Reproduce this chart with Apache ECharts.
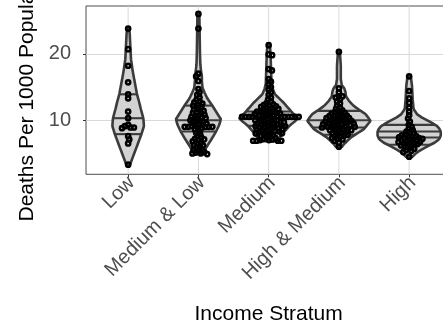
<!DOCTYPE html>
<html><head><meta charset="utf-8">
<script src="https://cdn.jsdelivr.net/npm/echarts@6/dist/echarts.min.js"></script>
<style>html,body{margin:0;padding:0;background:#fff}#c{width:443px;height:324px}</style>
</head><body><div id="c"></div>
<script>
// ---- data ----
const categories = ['Low', 'Medium & Low', 'Medium', 'High & Medium', 'High'];
const categoryPositions = [1, 2, 3, 4, 5];
const yTickLabels = [10, 20];

const lowValues = [3.3, 6.5, 7.1, 7.6, 8.8, 8.9, 8.9, 9.1, 9.3, 10.3, 11.3, 13.3, 13.9, 15.7, 18.2, 20.7, 23.8];
const mediumLowValues = [4.9, 5.0, 5.0, 5.1, 5.2, 5.4, 5.5, 5.6, 5.8, 6.0, 6.2, 6.3, 6.4, 6.6, 6.8, 7.0, 7.1, 7.2, 7.4, 7.6, 7.9, 8.1, 8.4, 8.6, 8.8, 8.9, 9.0, 9.0, 9.0, 9.0, 9.0, 9.1, 9.2, 9.3, 9.4, 9.5, 9.6, 9.7, 9.8, 9.9, 10.0, 10.1, 10.2, 10.3, 10.4, 10.5, 10.6, 10.7, 10.8, 11.0, 11.1, 11.2, 11.4, 11.5, 11.6, 11.8, 12.0, 12.2, 12.3, 12.5, 12.7, 12.8, 13.1, 13.4, 13.8, 14.2, 14.7, 15.9, 16.6, 17.0, 23.8, 26.0];
const mediumValues = [6.9, 6.9, 6.9, 6.9, 7.0, 7.0, 7.1, 7.2, 7.3, 7.4, 7.5, 7.6, 7.7, 7.8, 7.9, 8.0, 8.0, 8.1, 8.2, 8.3, 8.3, 8.4, 8.5, 8.5, 8.6, 8.7, 8.7, 8.8, 8.9, 8.9, 9.0, 9.0, 9.1, 9.1, 9.2, 9.2, 9.3, 9.4, 9.4, 9.5, 9.5, 9.6, 9.7, 9.7, 9.8, 9.9, 9.9, 10.0, 10.0, 10.1, 10.2, 10.2, 10.3, 10.4, 10.5, 10.5, 10.5, 10.5, 10.5, 10.5, 10.5, 10.5, 10.5, 10.5, 10.5, 10.6, 10.7, 10.7, 10.8, 10.9, 10.9, 11.0, 11.1, 11.1, 11.2, 11.3, 11.3, 11.4, 11.5, 11.6, 11.7, 11.8, 11.9, 12.0, 12.1, 12.2, 12.3, 12.4, 12.6, 12.8, 13.1, 13.4, 13.8, 14.2, 14.6, 15.0, 15.4, 15.8, 16.2, 17.5, 17.7, 19.8, 19.9, 21.3];
const highMediumValues = [6.0, 6.6, 6.9, 7.1, 7.2, 7.3, 7.5, 7.6, 7.7, 7.8, 7.9, 8.0, 8.1, 8.2, 8.3, 8.4, 8.5, 8.5, 8.6, 8.7, 8.7, 8.8, 8.9, 8.9, 9.0, 9.0, 9.1, 9.1, 9.2, 9.3, 9.3, 9.4, 9.4, 9.5, 9.5, 9.6, 9.6, 9.7, 9.7, 9.8, 9.8, 9.9, 10.0, 10.0, 10.1, 10.1, 10.2, 10.3, 10.3, 10.4, 10.5, 10.6, 10.6, 10.7, 10.8, 10.9, 11.0, 11.1, 11.2, 11.3, 11.5, 11.7, 11.9, 12.2, 12.5, 12.8, 13.1, 13.4, 13.6, 13.6, 14.2, 14.8, 20.3];
const highValues = [4.5, 5.2, 5.4, 5.5, 5.7, 5.8, 6.0, 6.1, 6.2, 6.3, 6.4, 6.5, 6.5, 6.6, 6.7, 6.8, 6.8, 6.9, 7.0, 7.0, 7.1, 7.2, 7.3, 7.3, 7.4, 7.5, 7.6, 7.6, 7.7, 7.8, 8.0, 8.1, 8.3, 8.5, 8.7, 9.0, 9.3, 9.8, 10.25, 10.75, 11.3, 11.9, 12.6, 13.3, 14.4, 16.6];

// relative violin density (value, relative half width; 1 = widest violin)
const lowDensity = [[3.3,0.06],[4.6,0.16],[6.1,0.28],[7.9,0.42],[9.1,0.50],[10.3,0.48],[11.7,0.40],[12.7,0.35],[13.9,0.28],[15.2,0.23],[16.2,0.19],[17.5,0.14],[19.2,0.09],[21.0,0.07],[23.0,0.05],[23.8,0.03]];
const mediumLowDensity = [[4.9,0.13],[5.9,0.25],[7.1,0.41],[8.4,0.57],[9.3,0.66],[10.15,0.71],[11.2,0.57],[12.2,0.44],[13.3,0.28],[14.2,0.19],[14.9,0.13],[15.8,0.11],[16.6,0.11],[17.5,0.08],[18.5,0.06],[20.0,0.05],[23.0,0.04],[26.0,0.03]];
const mediumDensity = [[6.85,0.26],[8.15,0.47],[9.15,0.66],[10.25,0.93],[11.4,0.70],[12.65,0.47],[13.9,0.20],[14.7,0.13],[15.5,0.09],[17.0,0.08],[18.5,0.07],[20.0,0.06],[21.3,0.04]];
const highMediumDensity = [[6.0,0.10],[6.4,0.16],[7.4,0.38],[8.65,0.79],[9.9,1.0],[10.9,0.85],[11.5,0.66],[12.15,0.47],[12.9,0.32],[13.65,0.22],[14.2,0.21],[14.8,0.17],[15.3,0.09],[16.2,0.06],[18.2,0.06],[20.3,0.03]];
const highDensity = [[4.47,0.10],[5.13,0.24],[5.6,0.40],[6.13,0.60],[6.6,0.80],[7.14,0.95],[7.7,1.0],[8.24,1.0],[8.7,0.96],[9.14,0.88],[9.5,0.75],[9.9,0.60],[10.4,0.40],[10.9,0.25],[11.66,0.14],[13.2,0.11],[15.2,0.09],[16.67,0.05]];

const lowQuantiles = [7.9, 10.3, 13.9];
const mediumLowQuantiles = [8.3, 10.0, 12.2];
const mediumQuantiles = [8.15, 9.15, 10.25, 11.3];
const highMediumQuantiles = [7.8, 8.9, 10.0, 11.4];
const highQuantiles = [6.3, 7.4, 8.3, 9.3];

// ---- assemble ----
const groups = [
  {values: lowValues, density: lowDensity, quantiles: lowQuantiles},
  {values: mediumLowValues, density: mediumLowDensity, quantiles: mediumLowQuantiles},
  {values: mediumValues, density: mediumDensity, quantiles: mediumQuantiles},
  {values: highMediumValues, density: highMediumDensity, quantiles: highMediumQuantiles},
  {values: highValues, density: highDensity, quantiles: highQuantiles}
];

const FONT = 'Liberation Sans, Arial, sans-serif';
const VIOLIN_FILL = '#d3d3d3', VIOLIN_STROKE = '#3b3b3b', GRID = '#d9d9d9';
const MAX_HALF = 0.45; // fraction of category step
const SWARM_D = 3.5, PT_R = 2.1;

function interpDensity(dens, v) {
  if (v <= dens[0][0]) return dens[0][1];
  for (let k = 1; k < dens.length; k++) {
    if (v <= dens[k][0]) {
      const a = dens[k-1], b = dens[k];
      const t = (v - a[0]) / (b[0] - a[0]);
      return a[1] + t * (b[1] - a[1]);
    }
  }
  return dens[dens.length-1][1];
}

function swarm(ys, D) {
  const order = ys.map((y, i) => i).sort((a, b) => ys[a] - ys[b]);
  const placed = [];
  const xs = new Array(ys.length);
  let flip = 1;
  for (const i of order) {
    const y = ys[i];
    const near = placed.filter(p => Math.abs(p.y - y) < D);
    const cands = [0];
    near.forEach(p => {
      const dx = Math.sqrt(D * D - (p.y - y) * (p.y - y));
      cands.push(p.x + dx, p.x - dx);
    });
    cands.sort((a, b) => Math.abs(a) - Math.abs(b) || (flip * (b - a)));
    let best = 0;
    for (const c of cands) {
      if (near.every(p => (p.x - c) * (p.x - c) + (p.y - y) * (p.y - y) >= D * D - 1e-6)) { best = c; break; }
    }
    flip = -flip;
    xs[i] = best;
    placed.push({x: best, y: y});
  }
  return xs;
}

function renderGroup(params, api) {
  const gi = api.value(0) - 1;
  const g = groups[gi];
  const pos = categoryPositions[gi];
  const step = api.size([1, 0])[0];
  const cs = params.coordSys;
  const children = [];
  const cx = api.coord([pos, 10])[0];
  children.push({type: 'line', shape: {x1: cx, y1: cs.y, x2: cx, y2: cs.y + cs.height},
    style: {stroke: GRID, lineWidth: 1}, silent: true});
  const right = [], left = [];
  const dens = g.density;
  const vmin = dens[0][0], vmax = dens[dens.length-1][0];
  const N = 80;
  for (let k = 0; k <= N; k++) {
    const v = vmin + (vmax - vmin) * k / N;
    const hw = interpDensity(dens, v) * MAX_HALF * step;
    const y = api.coord([pos, v])[1];
    right.push([cx + hw, y]);
    left.unshift([cx - hw, y]);
  }
  children.push({type: 'polygon', shape: {points: right.concat(left), smooth: 0},
    style: {fill: VIOLIN_FILL, stroke: VIOLIN_STROKE, lineWidth: 2.6, lineJoin: 'round'}});
  g.quantiles.forEach(q => {
    const hw = interpDensity(dens, q) * MAX_HALF * step;
    const y = api.coord([pos, q])[1];
    children.push({type: 'line', shape: {x1: cx - hw, y1: y, x2: cx + hw, y2: y},
      style: {stroke: VIOLIN_STROKE, lineWidth: 2.1}});
  });
  const ys = g.values.map(v => api.coord([pos, v])[1]);
  const xs = swarm(ys, SWARM_D);
  ys.forEach((y, i) => {
    children.push({type: 'circle', shape: {cx: cx + xs[i], cy: y, r: PT_R},
      style: {fill: 'rgba(0,0,0,0)', stroke: '#000', lineWidth: 2.5}});
  });
  return {type: 'group', children: children};
}

const chart = echarts.init(document.getElementById('c'), null, {renderer: 'canvas'});
chart.setOption({
  animation: false,
  backgroundColor: '#fff',
  grid: {left: 86, top: 6, width: 365.3, height: 168.3, show: true, borderColor: '#4d4d4d', borderWidth: 1,
    backgroundColor: 'transparent', containLabel: false, outerBoundsMode: 'none'},
  xAxis: {
    type: 'value', min: 0.4, max: 5.6,
    name: 'Income Stratum', nameLocation: 'middle', nameGap: 129,
    nameTextStyle: {fontFamily: FONT, fontSize: 21, color: '#000'},
    axisLine: {show: false},
    axisTick: {show: true, customValues: categoryPositions, length: 3, lineStyle: {color: '#333'}},
    axisLabel: {customValues: categoryPositions, formatter: v => categories[Math.round(v) - 1],
      rotate: 45, margin: 9, padding: [0, -5, 0, 0], fontFamily: FONT, fontSize: 20, color: '#4d4d4d'},
    splitLine: {show: false}
  },
  yAxis: {
    type: 'value', min: 1.85, max: 27.2,
    name: 'Deaths Per 1000 Population', nameLocation: 'middle', nameGap: 46,
    nameTextStyle: {fontFamily: FONT, fontSize: 21, color: '#000'},
    axisLine: {show: false},
    axisTick: {show: true, customValues: yTickLabels, length: 3, lineStyle: {color: '#333'}},
    axisLabel: {customValues: yTickLabels, margin: 15, fontFamily: FONT, fontSize: 20, color: '#4d4d4d'},
    splitLine: {show: true, lineStyle: {color: GRID, width: 1}}
  },
  series: [{
    type: 'custom',
    renderItem: renderGroup,
    data: categoryPositions.map(p => [p]),
    encode: {x: 0},
    clip: false,
    silent: true
  }]
});
</script></body></html>
